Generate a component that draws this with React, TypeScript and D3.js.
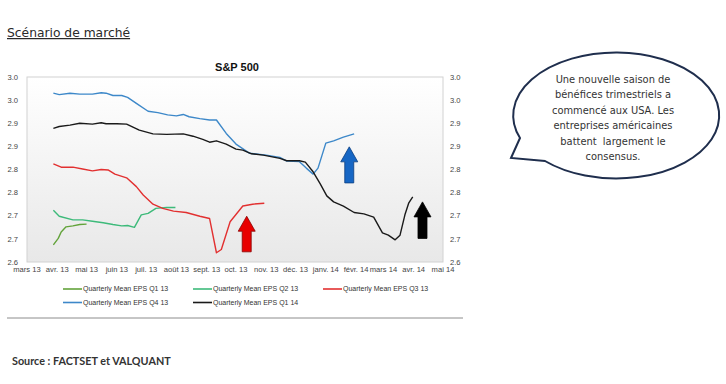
import React from 'react';
import * as d3 from 'd3';

const W = 726;
const H = 384;

// month ticks of the date axis (French labels)
const monthDates = [
  '2013-03-01', '2013-04-01', '2013-05-01', '2013-06-01', '2013-07-01', '2013-08-01', '2013-09-01',
  '2013-10-01', '2013-11-01', '2013-12-01', '2014-01-01', '2014-02-01', '2014-03-01', '2014-04-01', '2014-05-01',
];
const monthLabels = [
  'mars 13', 'avr. 13', 'mai 13', 'juin 13', 'juil. 13', 'août 13', 'sept. 13',
  'oct. 13', 'nov. 13', 'déc. 13', 'janv. 14', 'févr. 14', 'mars 14', 'avr. 14', 'mai 14',
];

const yTicks = [2.6, 2.65, 2.7, 2.75, 2.8, 2.85, 2.9, 2.95, 3.0];
const yTickLabels = ['2.6', '2.7', '2.7', '2.8', '2.8', '2.9', '2.9', '3.0', '3.0'];

const q1_13: [string, number][] = [
  ['2013-03-28', 2.637], ['2013-04-02', 2.651], ['2013-04-05', 2.665], ['2013-04-10', 2.676],
  ['2013-04-17', 2.678], ['2013-04-24', 2.681], ['2013-05-01', 2.682],
];

const q2_13: [string, number][] = [
  ['2013-03-28', 2.712], ['2013-04-03', 2.699], ['2013-04-17', 2.691], ['2013-04-27', 2.691],
  ['2013-05-07', 2.688], ['2013-05-18', 2.685], ['2013-05-28', 2.681], ['2013-06-06', 2.678],
  ['2013-06-12', 2.679], ['2013-06-19', 2.675], ['2013-06-26', 2.702], ['2013-07-03', 2.705],
  ['2013-07-11', 2.716], ['2013-07-22', 2.718], ['2013-07-31', 2.718],
];

const q3_13: [string, number][] = [
  ['2013-03-28', 2.812], ['2013-04-05', 2.805], ['2013-04-17', 2.805], ['2013-04-27', 2.801],
  ['2013-05-07', 2.797], ['2013-05-16', 2.800], ['2013-05-23', 2.799], ['2013-05-30', 2.790],
  ['2013-06-11', 2.782], ['2013-06-21', 2.763], ['2013-06-28', 2.745], ['2013-07-08', 2.725],
  ['2013-07-18', 2.716], ['2013-07-29', 2.710], ['2013-08-11', 2.707], ['2013-08-25', 2.699],
  ['2013-09-04', 2.694], ['2013-09-11', 2.620], ['2013-09-16', 2.627], ['2013-09-25', 2.687],
  ['2013-10-08', 2.721], ['2013-10-18', 2.725], ['2013-10-30', 2.727],
];

const q4_13: [string, number][] = [
  ['2013-03-28', 2.965], ['2013-04-03', 2.962], ['2013-04-14', 2.965], ['2013-04-24', 2.963],
  ['2013-05-07', 2.963], ['2013-05-16', 2.966], ['2013-05-21', 2.965], ['2013-05-28', 2.960],
  ['2013-06-06', 2.960], ['2013-06-12', 2.956], ['2013-06-21', 2.943], ['2013-07-03', 2.926],
  ['2013-07-13', 2.923], ['2013-07-23', 2.918], ['2013-08-01', 2.916], ['2013-08-08', 2.919],
  ['2013-08-14', 2.914], ['2013-08-25', 2.910], ['2013-09-04', 2.907], ['2013-09-11', 2.907],
  ['2013-09-21', 2.878], ['2013-10-01', 2.855], ['2013-10-15', 2.835], ['2013-11-01', 2.831],
  ['2013-11-15', 2.826], ['2013-11-22', 2.818], ['2013-12-05', 2.817], ['2013-12-12', 2.803],
  ['2013-12-19', 2.790], ['2013-12-24', 2.803], ['2014-01-01', 2.857], ['2014-01-09', 2.862],
  ['2014-01-19', 2.870], ['2014-01-30', 2.877],
];

const q1_14: [string, number][] = [
  ['2013-03-28', 2.889], ['2013-04-03', 2.893], ['2013-04-14', 2.896], ['2013-04-24', 2.900],
  ['2013-05-07', 2.898], ['2013-05-16', 2.901], ['2013-05-21', 2.899], ['2013-06-01', 2.899],
  ['2013-06-11', 2.898], ['2013-06-24', 2.885], ['2013-07-08', 2.877], ['2013-07-22', 2.876],
  ['2013-08-08', 2.877], ['2013-08-18', 2.872], ['2013-08-28', 2.865], ['2013-09-04', 2.859],
  ['2013-09-11', 2.862], ['2013-09-21', 2.855], ['2013-10-01', 2.844], ['2013-10-08', 2.842],
  ['2013-10-17', 2.834], ['2013-10-29', 2.831], ['2013-11-15', 2.824], ['2013-11-22', 2.819],
  ['2013-12-05', 2.819], ['2013-12-11', 2.816], ['2013-12-19', 2.795], ['2013-12-26', 2.770],
  ['2014-01-02', 2.743], ['2014-01-09', 2.730], ['2014-01-19', 2.721], ['2014-01-30', 2.707],
  ['2014-02-09', 2.704], ['2014-02-19', 2.697], ['2014-02-28', 2.663], ['2014-03-06', 2.658],
  ['2014-03-13', 2.648], ['2014-03-18', 2.658], ['2014-03-23', 2.702], ['2014-03-27', 2.728],
  ['2014-03-31', 2.741],
];

const seriesNames = [
  'Quarterly Mean EPS Q1 13', 'Quarterly Mean EPS Q2 13', 'Quarterly Mean EPS Q3 13',
  'Quarterly Mean EPS Q4 13', 'Quarterly Mean EPS Q1 14',
];
const seriesData = [q1_13, q2_13, q3_13, q4_13, q1_14];
const seriesColors = ['#62a33a', '#3dba7a', '#e23030', '#3d88c9', '#1a1a1a'];

// upward arrows: date, base value, tip value
const arrowDates = ['2013-10-12', '2014-01-25', '2014-04-10'];
const arrowBase = [2.622, 2.771, 2.651];
const arrowTip = [2.699, 2.849, 2.730];
const arrowFill = ['#e80000', '#1666c4', '#000000'];
const arrowStroke = ['#8a0000', '#0d3f80', '#000000'];

const bubbleLines = [
  'Une nouvelle saison de',
  'bénéfices trimestriels a',
  'commencé aux USA. Les',
  'entreprises américaines',
  'battent  largement le',
  'consensus.',
];

const parse = d3.timeParse('%Y-%m-%d');

export default function App() {
  const plot = { left: 27, right: 443, top: 77, bottom: 262 };

  const x = d3.scaleTime()
    .domain([parse(monthDates[0])!, parse(monthDates[monthDates.length - 1])!])
    .range([plot.left, plot.right]);
  const y = d3.scaleLinear().domain([2.6, 3.0]).range([plot.bottom, plot.top]);

  const line = d3.line<[string, number]>()
    .x(d => x(parse(d[0])!))
    .y(d => y(d[1]));

  const axisFont = { fontFamily: '"Liberation Sans", Arial, sans-serif', fontSize: 7.6, fill: '#444' };

  const arrowPath = (i: number) => {
    const cx = x(parse(arrowDates[i])!);
    const yb = y(arrowBase[i]);
    const yt = y(arrowTip[i]);
    const headH = 15, headW = 8.5, shaftW = 4.5;
    return `M${cx},${yt} L${cx + headW},${yt + headH} L${cx + shaftW},${yt + headH} L${cx + shaftW},${yb}` +
      ` L${cx - shaftW},${yb} L${cx - shaftW},${yt + headH} L${cx - headW},${yt + headH} Z`;
  };

  const legendCols = [63, 193, 323];
  const legendRows = [289, 302.5];

  return (
    <svg width={W} height={H} style={{ position: 'absolute', left: 0, top: 0, background: '#fff' }}>
      <defs>
        <linearGradient id="plotBg" x1="0" y1="0" x2="0" y2="1">
          <stop offset="0" stopColor="#ffffff" />
          <stop offset="1" stopColor="#e8e8e8" />
        </linearGradient>
      </defs>

      <text x={7} y={37} style={{ fontFamily: '"DejaVu Sans", Verdana, sans-serif', fontSize: 12.3, fill: '#2a2a2a', textDecoration: 'underline' }}>
        Scénario de marché
      </text>

      <text x={237} y={71} textAnchor="middle" style={{ fontFamily: '"Liberation Sans", Arial, sans-serif', fontSize: 11, fontWeight: 'bold', fill: '#111' }}>
        S&amp;P 500
      </text>

      <rect x={plot.left} y={plot.top} width={plot.right - plot.left} height={plot.bottom - plot.top}
        fill="url(#plotBg)" stroke="#d2d2d2" strokeWidth={1} />

      {yTicks.map((t, i) => (
        <g key={'yt' + i}>
          <text x={18} y={y(t)} dy="0.35em" textAnchor="end" style={axisFont}>{yTickLabels[i]}</text>
          <text x={450} y={y(t)} dy="0.35em" textAnchor="start" style={axisFont}>{yTickLabels[i]}</text>
        </g>
      ))}

      {monthDates.map((m, i) => (
        <text key={m} x={x(parse(m)!)} y={272} textAnchor="middle" style={axisFont}>{monthLabels[i]}</text>
      ))}

      {seriesData.map((s, i) => (
        <path key={seriesNames[i]} d={line(s) || ''} fill="none" stroke={seriesColors[i]}
          strokeWidth={1.4} strokeLinejoin="round" />
      ))}

      {arrowDates.map((d, i) => (
        <path key={d} d={arrowPath(i)} fill={arrowFill[i]} stroke={arrowStroke[i]} strokeWidth={0.8} />
      ))}

      {seriesNames.map((name, i) => {
        const lx = legendCols[i % 3];
        const ly = legendRows[Math.floor(i / 3)];
        return (
          <g key={'lg' + i}>
            <line x1={lx} x2={lx + 19} y1={ly} y2={ly} stroke={seriesColors[i]} strokeWidth={1.6} />
            <text x={lx + 20} y={ly} dy="0.35em" style={{ ...axisFont, fontSize: 7, fill: '#333' }}>{name}</text>
          </g>
        );
      })}

      <line x1={7} x2={463} y1={318} y2={318} stroke="#8c8c8c" strokeWidth={1} />

      <text x={12} y={365} style={{ fontFamily: 'Lato, "Liberation Sans", sans-serif', fontSize: 10.8, fontWeight: 'bold', fill: '#333' }}>
        Source : FACTSET et VALQUANT
      </text>

      <path d="M520,138 A103,63 0 1,1 545,161 L511,158 Z" fill="#fff" stroke="#1f2e4d" strokeWidth={2} strokeLinejoin="miter" />
      {bubbleLines.map((t, i) => (
        <text key={'b' + i} x={613} y={83 + i * 15.4} textAnchor="middle"
          style={{ fontFamily: '"DejaVu Sans", Verdana, sans-serif', fontSize: 9.9, fill: '#333', whiteSpace: 'pre' }}>
          {t}
        </text>
      ))}
    </svg>
  );
}
